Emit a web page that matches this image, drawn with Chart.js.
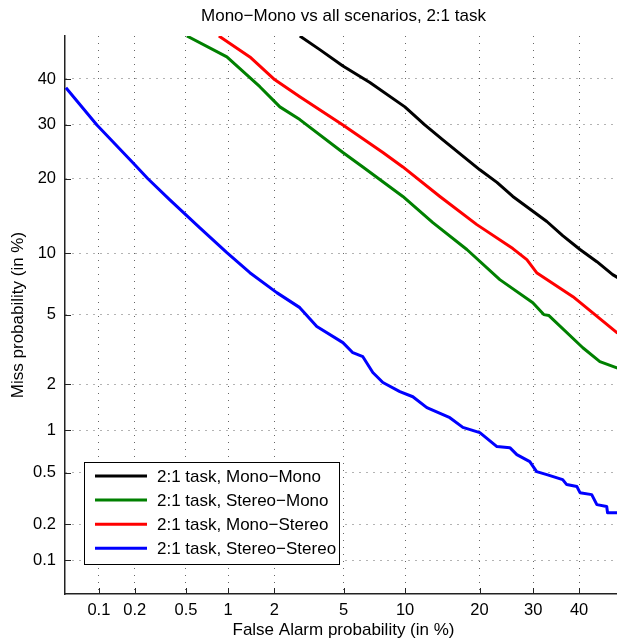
<!DOCTYPE html>
<html>
<head>
<meta charset="utf-8">
<script src="https://cdn.jsdelivr.net/npm/chart.js@4.4.0/dist/chart.umd.min.js"></script>
<style>
  html, body { margin: 0; padding: 0; overflow: hidden; background: #fff; }
  canvas { display: block; }
</style>
</head>
<body>
<canvas id="det" width="630" height="639"></canvas>
<script>
// DET curves, false alarm vs miss rate (both in %), on normal-deviate axes

const tickPct = [0.1, 0.2, 0.5, 1, 2, 5, 10, 20, 30, 40];
const tickLabels = ["0.1", "0.2", "0.5", "1", "2", "5", "10", "20", "30", "40"];

const monoMonoFA = [2.85, 3.71, 4.96, 6.82, 9.98, 12.2, 14.5, 20.05, 23.0, 25.95, 32.85, 36.3, 40.2, 44.1, 47.8, 50];
const monoMonoMiss = [50, 46.8, 43.0, 39.2, 33.8, 30.0, 27.0, 21.5, 19.4, 17.2, 13.7, 11.95, 10.4, 9.16, 7.97, 7.5];

const stereoMonoFA = [0.508, 0.979, 1.62, 2.163, 2.85, 4.96, 6.29, 9.77, 13.19, 17.97, 23.52, 29.92, 32.2, 33.3, 40.85, 44.8, 48.8, 50];
const stereoMonoMiss = [50, 45.1, 38.25, 33.8, 31.1, 24.6, 22.0, 17.2, 13.55, 10.4, 7.54, 5.79, 5.02, 4.96, 3.30, 2.74, 2.52, 2.46];

const monoStereoFA = [0.862, 1.396, 2.015, 2.85, 4.96, 7.89, 9.77, 14.1, 19.56, 25.95, 28.7, 30.7, 38.6, 48.8, 50];
const monoStereoMiss = [50, 45.1, 39.8, 36.0, 30.0, 24.6, 22.0, 17.2, 13.3, 10.5, 9.36, 8.14, 6.21, 4.01, 3.91];

const stereoStereoFA = [0.051, 0.0961, 0.193, 0.255, 0.378, 0.632, 0.979, 1.396, 2.07, 2.85, 3.57, 4.96, 5.59, 6.29, 7.05, 7.89, 9.47, 10.83, 12.45, 15.46, 17.36, 20.05, 23.0, 25.38, 26.72, 29.3, 30.7, 32.85, 36.3, 37.2, 39.5, 40.2, 42.9, 44.1, 46.4, 46.6, 50];
const stereoStereoMiss = [38.0, 30.0, 22.75, 20.0, 16.7, 12.9, 10.07, 8.14, 6.51, 5.46, 4.33, 3.53, 3.09, 2.93, 2.36, 2.05, 1.80, 1.67, 1.42, 1.22, 1.05, 0.967, 0.773, 0.760, 0.678, 0.604, 0.510, 0.485, 0.445, 0.408, 0.394, 0.354, 0.342, 0.286, 0.276, 0.247, 0.247];

// inverse normal CDF (Acklam's rational approximation)
function probit(p) {
  const a = [-3.969683028665376e1, 2.209460984245205e2, -2.759285104469687e2, 1.38357751867269e2, -3.066479806614716e1, 2.506628277459239];
  const b = [-5.447609879822406e1, 1.615858368580409e2, -1.556989798598866e2, 6.680131188771972e1, -1.328068155288572e1];
  const c = [-7.784894002430293e-3, -3.223964580411365e-1, -2.400758277161838, -2.549732539343734, 4.374664141464968, 2.938163982698783];
  const d = [7.784695709041462e-3, 3.224671290700398e-1, 2.445134137142996, 3.754408661907416];
  const plow = 0.02425;
  let q, r;
  if (p < plow) {
    q = Math.sqrt(-2 * Math.log(p));
    return (((((c[0] * q + c[1]) * q + c[2]) * q + c[3]) * q + c[4]) * q + c[5]) /
      ((((d[0] * q + d[1]) * q + d[2]) * q + d[3]) * q + 1);
  }
  if (p <= 1 - plow) {
    q = p - 0.5;
    r = q * q;
    return (((((a[0] * r + a[1]) * r + a[2]) * r + a[3]) * r + a[4]) * r + a[5]) * q /
      (((((b[0] * r + b[1]) * r + b[2]) * r + b[3]) * r + b[4]) * r + 1);
  }
  q = Math.sqrt(-2 * Math.log(1 - p));
  return -(((((c[0] * q + c[1]) * q + c[2]) * q + c[3]) * q + c[4]) * q + c[5]) /
    ((((d[0] * q + d[1]) * q + d[2]) * q + d[3]) * q + 1);
}

const toPoints = (fa, miss) =>
  fa.map((v, i) => ({ x: probit(v / 100), y: probit(miss[i] / 100) }));

const FONT = '"Liberation Sans", Arial, Helvetica, sans-serif';
Chart.defaults.font.family = FONT;
Chart.defaults.color = "#000";

const makeLine = (label, color, fa, miss) => ({
  label: label,
  data: toPoints(fa, miss),
  borderColor: color,
  backgroundColor: color,
  borderWidth: 3,
  pointRadius: 0,
  tension: 0,
  borderJoinStyle: "round",
  fill: false,
});

const dataDet = {
  datasets: [
    makeLine("2:1 task, Mono\u2212Mono", "#000000", monoMonoFA, monoMonoMiss),
    makeLine("2:1 task, Stereo\u2212Mono", "#008000", stereoMonoFA, stereoMonoMiss),
    makeLine("2:1 task, Mono\u2212Stereo", "#ff0000", monoStereoFA, monoStereoMiss),
    makeLine("2:1 task, Stereo\u2212Stereo", "#0000ff", stereoStereoFA, stereoStereoMiss),
  ],
};

const probitScale = (titleText, isX) => ({
  type: "linear",
  min: probit(0.0005),
  max: 0,
  afterBuildTicks: (scale) => {
    scale.ticks = tickPct.map((v) => ({ value: probit(v / 100) }));
  },
  afterFit: (scale) => {
    if (isX) scale.height = 45;
    else scale.width = 65;
  },
  ticks: {
    autoSkip: false,
    maxRotation: 0,
    padding: isX ? 7 : 9,
    font: { size: 16.5 },
    color: "#000",
    callback: (value, index) => tickLabels[index],
  },
  grid: {
    drawTicks: false,
    color: "rgba(0,0,0,0.6)",
    lineWidth: 1,
  },
  border: {
    display: true,
    color: "#222",
    width: 1.5,
    dash: [1, 6],
  },
  title: {
    display: true,
    text: titleText,
    color: "#000",
    font: { size: 17, lineHeight: 1 },
    padding: isX ? { top: 0, bottom: 0 } : { top: 10, bottom: 0 },
  },
});

// Matlab-style tick marks pointing into the plot
const innerTicks = {
  id: "innerTicks",
  beforeDatasetsDraw(chart) {
    const { ctx, chartArea, scales } = chart;
    ctx.save();
    ctx.strokeStyle = "#222";
    ctx.lineWidth = 1;
    scales.x.ticks.forEach((t) => {
      const px = Math.round(scales.x.getPixelForValue(t.value)) + 0.5;
      ctx.beginPath();
      ctx.moveTo(px, chartArea.bottom);
      ctx.lineTo(px, chartArea.bottom - 6);
      ctx.stroke();
    });
    scales.y.ticks.forEach((t) => {
      const py = Math.round(scales.y.getPixelForValue(t.value)) + 0.5;
      ctx.beginPath();
      ctx.moveTo(chartArea.left, py);
      ctx.lineTo(chartArea.left + 6, py);
      ctx.stroke();
    });
    ctx.restore();
  },
};

// boxed legend in the lower left corner of the axes
const boxLegend = {
  id: "boxLegend",
  afterDatasetsDraw(chart) {
    const { ctx, chartArea } = chart;
    const left = chartArea.left + 19.5;
    const top = chartArea.bottom - 131.5;
    ctx.save();
    ctx.fillStyle = "#fff";
    ctx.fillRect(left, top, 255, 102);
    ctx.strokeStyle = "#000";
    ctx.lineWidth = 1;
    ctx.strokeRect(left, top, 255, 102);
    ctx.font = "17px " + FONT;
    ctx.textBaseline = "middle";
    chart.data.datasets.forEach((ds, i) => {
      const y = top + 13.5 + i * 24.1;
      ctx.strokeStyle = ds.borderColor;
      ctx.lineWidth = 3;
      ctx.beginPath();
      ctx.moveTo(left + 10.5, y);
      ctx.lineTo(left + 62.5, y);
      ctx.stroke();
      ctx.fillStyle = "#000";
      ctx.fillText(ds.label, left + 72.5, y + 1);
    });
    ctx.restore();
  },
};

const configDet = {
  type: "line",
  data: dataDet,
  options: {
    responsive: false,
    animation: false,
    devicePixelRatio: 1,
    layout: { padding: { top: 0, right: 8, left: 0, bottom: 0 } },
    plugins: {
      legend: { display: false },
      tooltip: { enabled: false },
      title: {
        display: true,
        text: "Mono\u2212Mono vs all scenarios, 2:1 task",
        fullSize: false,
        color: "#000",
        font: { size: 17, weight: "normal", lineHeight: 1 },
        padding: { top: 8, bottom: 11 },
      },
    },
    scales: {
      x: probitScale("False Alarm probability (in %)", true),
      y: probitScale("Miss probability (in %)", false),
    },
  },
  plugins: [innerTicks, boxLegend],
};

new Chart(document.getElementById("det").getContext("2d"), configDet);
</script>
</body>
</html>
